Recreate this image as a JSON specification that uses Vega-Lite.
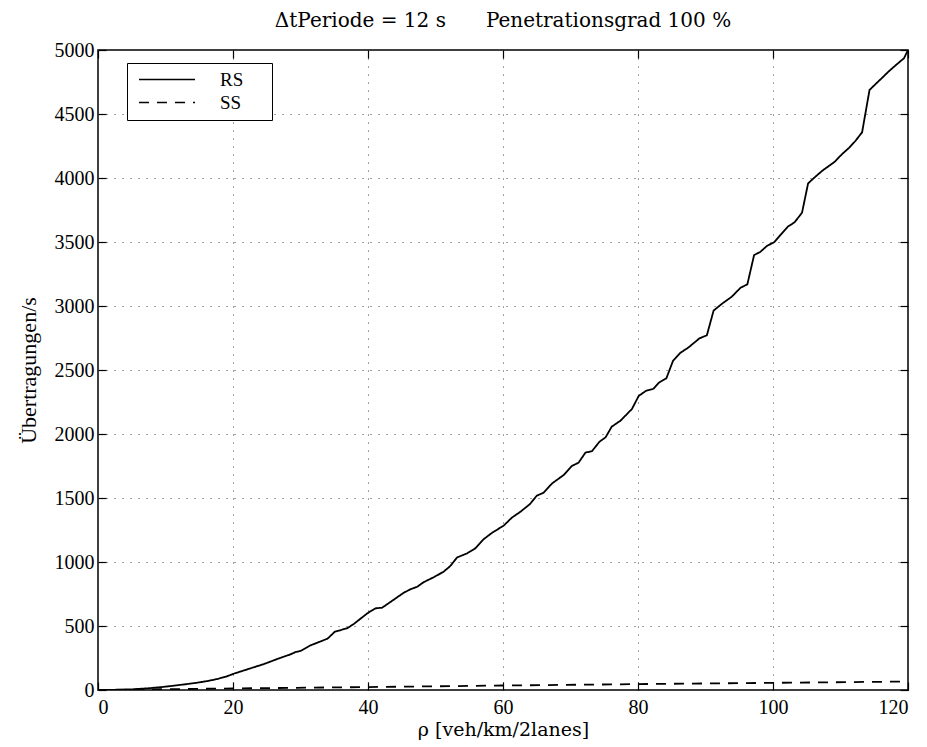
{
  "$schema": "https://vega.github.io/schema/vega-lite/v6.json",
  "autosize": {"type": "none"},
  "padding": {"left": 98, "top": 50, "right": 19, "bottom": 57},
  "width": 810,
  "height": 640,
  "background": "white",
  "config": {
    "view": {"stroke": "black", "strokeWidth": 1.5},
    "font": "Liberation Serif",
    "style": {
      "guide-title": {"font": "Liberation Serif", "fontWeight": "normal"},
      "group-title": {"font": "DejaVu Serif", "fontWeight": "normal"},
      "guide-label": {"font": "Liberation Serif"}
    },
    "title": {"font": "DejaVu Serif", "fontWeight": "normal"},
    "axis": {
      "labelFont": "Liberation Serif",
      "labelFontSize": 20,
      "labelColor": "black",
      "titleFont": "Liberation Serif",
      "titleFontSize": 22,
      "titleFontWeight": "normal",
      "titleColor": "black",
      "domain": false,
      "tickColor": "black",
      "tickWidth": 1.2,
      "tickSize": -8,
      "gridColor": "#444",
      "gridOpacity": 1,
      "gridDash": [1, 7],
      "gridWidth": 1,
      "format": "d"
    }
  },
  "title": {
    "text": "ΔtPeriode = 12 s\u2003\u2003Penetrationsgrad 100 %",
    "font": "DejaVu Serif",
    "fontSize": 20,
    "fontWeight": "normal",
    "color": "black",
    "anchor": "middle",
    "frame": "group",
    "offset": 9
  },
  "data": {
    "values": [
      {"rho": 0, "v": 0, "s": "RS"},
      {"rho": 3, "v": 2, "s": "RS"},
      {"rho": 5, "v": 5, "s": "RS"},
      {"rho": 7.3, "v": 13, "s": "RS"},
      {"rho": 9.3, "v": 22, "s": "RS"},
      {"rho": 11.3, "v": 34, "s": "RS"},
      {"rho": 13, "v": 45, "s": "RS"},
      {"rho": 14.7, "v": 57, "s": "RS"},
      {"rho": 16.2, "v": 70, "s": "RS"},
      {"rho": 17.7, "v": 86, "s": "RS"},
      {"rho": 19, "v": 105, "s": "RS"},
      {"rho": 20.1, "v": 127, "s": "RS"},
      {"rho": 22.1, "v": 161, "s": "RS"},
      {"rho": 24.6, "v": 203, "s": "RS"},
      {"rho": 26.8, "v": 247, "s": "RS"},
      {"rho": 28.5, "v": 278, "s": "RS"},
      {"rho": 29.3, "v": 297, "s": "RS"},
      {"rho": 30.0, "v": 305, "s": "RS"},
      {"rho": 31.5, "v": 349, "s": "RS"},
      {"rho": 34.0, "v": 401, "s": "RS"},
      {"rho": 35.1, "v": 456, "s": "RS"},
      {"rho": 36.9, "v": 482, "s": "RS"},
      {"rho": 37.9, "v": 516, "s": "RS"},
      {"rho": 39.9, "v": 599, "s": "RS"},
      {"rho": 41.1, "v": 638, "s": "RS"},
      {"rho": 42.1, "v": 643, "s": "RS"},
      {"rho": 44.1, "v": 716, "s": "RS"},
      {"rho": 45.3, "v": 760, "s": "RS"},
      {"rho": 46.3, "v": 787, "s": "RS"},
      {"rho": 47.3, "v": 807, "s": "RS"},
      {"rho": 48.2, "v": 841, "s": "RS"},
      {"rho": 49.7, "v": 880, "s": "RS"},
      {"rho": 51.2, "v": 924, "s": "RS"},
      {"rho": 52.2, "v": 969, "s": "RS"},
      {"rho": 53.2, "v": 1036, "s": "RS"},
      {"rho": 54.7, "v": 1068, "s": "RS"},
      {"rho": 55.9, "v": 1107, "s": "RS"},
      {"rho": 57.1, "v": 1177, "s": "RS"},
      {"rho": 58.4, "v": 1229, "s": "RS"},
      {"rho": 60.1, "v": 1284, "s": "RS"},
      {"rho": 61.3, "v": 1346, "s": "RS"},
      {"rho": 62.6, "v": 1393, "s": "RS"},
      {"rho": 64.0, "v": 1453, "s": "RS"},
      {"rho": 65.0, "v": 1518, "s": "RS"},
      {"rho": 66.0, "v": 1541, "s": "RS"},
      {"rho": 67.3, "v": 1615, "s": "RS"},
      {"rho": 69.0, "v": 1680, "s": "RS"},
      {"rho": 70.2, "v": 1750, "s": "RS"},
      {"rho": 71.2, "v": 1776, "s": "RS"},
      {"rho": 72.2, "v": 1854, "s": "RS"},
      {"rho": 73.2, "v": 1867, "s": "RS"},
      {"rho": 74.3, "v": 1940, "s": "RS"},
      {"rho": 75.2, "v": 1974, "s": "RS"},
      {"rho": 76.1, "v": 2057, "s": "RS"},
      {"rho": 77.4, "v": 2104, "s": "RS"},
      {"rho": 79.1, "v": 2195, "s": "RS"},
      {"rho": 80.1, "v": 2297, "s": "RS"},
      {"rho": 81.2, "v": 2338, "s": "RS"},
      {"rho": 82.3, "v": 2354, "s": "RS"},
      {"rho": 83.1, "v": 2401, "s": "RS"},
      {"rho": 84.2, "v": 2435, "s": "RS"},
      {"rho": 85.2, "v": 2573, "s": "RS"},
      {"rho": 86.3, "v": 2635, "s": "RS"},
      {"rho": 87.5, "v": 2677, "s": "RS"},
      {"rho": 89.1, "v": 2747, "s": "RS"},
      {"rho": 90.2, "v": 2771, "s": "RS"},
      {"rho": 91.2, "v": 2964, "s": "RS"},
      {"rho": 92.4, "v": 3016, "s": "RS"},
      {"rho": 93.9, "v": 3073, "s": "RS"},
      {"rho": 95.2, "v": 3143, "s": "RS"},
      {"rho": 96.2, "v": 3169, "s": "RS"},
      {"rho": 97.2, "v": 3398, "s": "RS"},
      {"rho": 98.1, "v": 3422, "s": "RS"},
      {"rho": 99.1, "v": 3469, "s": "RS"},
      {"rho": 100.2, "v": 3500, "s": "RS"},
      {"rho": 101.1, "v": 3555, "s": "RS"},
      {"rho": 102.2, "v": 3620, "s": "RS"},
      {"rho": 103.2, "v": 3654, "s": "RS"},
      {"rho": 104.3, "v": 3729, "s": "RS"},
      {"rho": 105.2, "v": 3958, "s": "RS"},
      {"rho": 106.0, "v": 3997, "s": "RS"},
      {"rho": 107.3, "v": 4057, "s": "RS"},
      {"rho": 109.1, "v": 4125, "s": "RS"},
      {"rho": 110.2, "v": 4185, "s": "RS"},
      {"rho": 111.3, "v": 4237, "s": "RS"},
      {"rho": 112.2, "v": 4289, "s": "RS"},
      {"rho": 113.2, "v": 4357, "s": "RS"},
      {"rho": 114.3, "v": 4688, "s": "RS"},
      {"rho": 115.2, "v": 4734, "s": "RS"},
      {"rho": 116.1, "v": 4779, "s": "RS"},
      {"rho": 117.1, "v": 4831, "s": "RS"},
      {"rho": 118.4, "v": 4891, "s": "RS"},
      {"rho": 119.4, "v": 4935, "s": "RS"},
      {"rho": 120, "v": 5000, "s": "RS"},
      {"rho": 0, "v": 0, "s": "SS"},
      {"rho": 20, "v": 12, "s": "SS"},
      {"rho": 40, "v": 23, "s": "SS"},
      {"rho": 60, "v": 35, "s": "SS"},
      {"rho": 80, "v": 46, "s": "SS"},
      {"rho": 100, "v": 56, "s": "SS"},
      {"rho": 120, "v": 66, "s": "SS"}
    ]
  },
  "layer": [
    {
      "mark": {"type": "line", "color": "black", "strokeWidth": 1.8, "clip": true},
      "encoding": {
        "x": {
          "field": "rho", "type": "quantitative",
          "scale": {"domain": [0, 120], "nice": false},
          "axis": {"orient": "bottom", "values": [0, 20, 40, 60, 80, 100, 120], "title": "ρ [veh/km/2lanes]", "titleFont": "DejaVu Serif", "titleFontSize": 19, "labelPadding": 15, "titlePadding": 3, "grid": true}
        },
        "y": {
          "field": "v", "type": "quantitative",
          "scale": {"domain": [0, 5000], "nice": false},
          "axis": {"orient": "left", "values": [0, 500, 1000, 1500, 2000, 2500, 3000, 3500, 4000, 4500, 5000], "title": "Übertragungen/s", "titleFont": "Liberation Serif", "titleFontSize": 22, "labelPadding": 12, "titlePadding": 14, "grid": true}
        },
        "strokeDash": {
          "field": "s", "type": "nominal",
          "scale": {"domain": ["RS", "SS"], "range": [[1, 0], [10, 8]]},
          "legend": {
            "orient": "none", "legendX": 29, "legendY": 13,
            "title": "\u00a0\u00a0\u00a0",
            "titleOrient": "right", "titleFontSize": 19, "titlePadding": 22,
            "symbolType": "stroke", "symbolSize": 3136, "symbolStrokeWidth": 1.5,
            "symbolStrokeColor": "black", "symbolOffset": 4,
            "labelFont": "Liberation Serif", "labelFontSize": 19, "labelColor": "black",
            "labelOffset": 24,
            "strokeColor": "black", "fillColor": "white", "padding": 7,
            "clipHeight": 19, "rowPadding": 3
          }
        }
      }
    },
    {
      "mark": {"type": "line", "opacity": 0},
      "encoding": {
        "x": {
          "field": "rho", "type": "quantitative",
          "scale": {"domain": [0, 120], "nice": false},
          "axis": {"orient": "top", "values": [0, 20, 40, 60, 80, 100, 120], "labels": false, "title": null, "grid": false}
        },
        "y": {
          "field": "v", "type": "quantitative",
          "scale": {"domain": [0, 5000], "nice": false},
          "axis": {"orient": "right", "values": [0, 500, 1000, 1500, 2000, 2500, 3000, 3500, 4000, 4500, 5000], "labels": false, "title": null, "grid": false}
        },
        "detail": {"field": "s", "type": "nominal"}
      }
    }
  ],
  "resolve": {"axis": {"x": "independent", "y": "independent"}}
}
